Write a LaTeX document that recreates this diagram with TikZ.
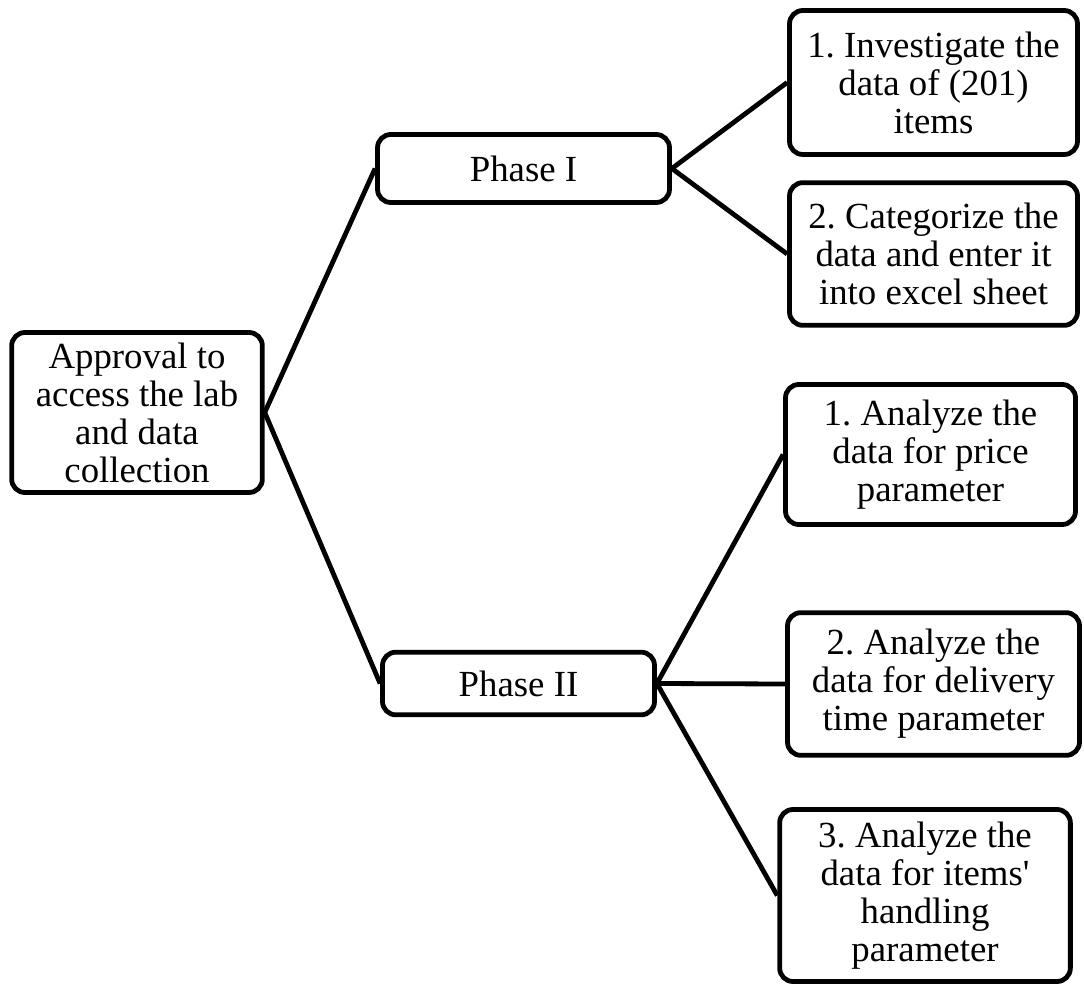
\documentclass[tikz,border=0pt]{standalone}
\usepackage{fontspec}
\setmainfont{Liberation Serif}[Ligatures=TeXOff]
\frenchspacing
\begin{document}
\begin{tikzpicture}[x=0.75pt,y=-0.75pt,
  box/.style={draw=black, line width=3.6pt, rounded corners=10pt, fill=white,
    align=center, inner sep=0pt,
    font=\fontsize{27.6pt}{28.5pt}\selectfont},
  conn/.style={draw=black, line width=3.6pt}]
\useasboundingbox (0,0) rectangle (1084,987);
\node[box, minimum width=188pt, minimum height=120pt] (root) at (137,412.5)
  {Approval to\\access the lab\\and data\\collection};
\node[box, minimum width=219pt, minimum height=51pt] (p1) at (523.5,168.5) {Phase I};
\node[box, minimum width=204pt, minimum height=47pt] (p2) at (518.5,683.5) {Phase II};
\node[box, minimum width=216pt, minimum height=108pt] (a1) at (933.5,82.5)
  {1. Investigate the\\data of (201)\\items};
\node[box, minimum width=216pt, minimum height=107pt] (a2) at (933.5,254)
  {2. Categorize the\\data and enter it\\into excel sheet};
\node[box, minimum width=217.5pt, minimum height=105pt] (b1) at (930.5,454.5)
  {1. Analyze the\\data for price\\parameter};
\node[box, minimum width=219pt, minimum height=107pt] (b2) at (933.5,684)
  {2. Analyze the\\data for delivery\\time parameter};
\node[box, minimum width=218pt, minimum height=129pt] (b3) at (925,895.5)
  {3. Analyze the\\data for items'\\handling\\parameter};
\draw[conn] (root.east) -- (p1.west);
\draw[conn] (root.east) -- (p2.west);
\draw[conn] (p1.east) -- (a1.west);
\draw[conn] (p1.east) -- (a2.west);
\draw[conn] (p2.east) -- (b1.west);
\draw[conn] (p2.east) -- (b2.west);
\draw[conn] (p2.east) -- (b3.west);
\end{tikzpicture}
\end{document}
